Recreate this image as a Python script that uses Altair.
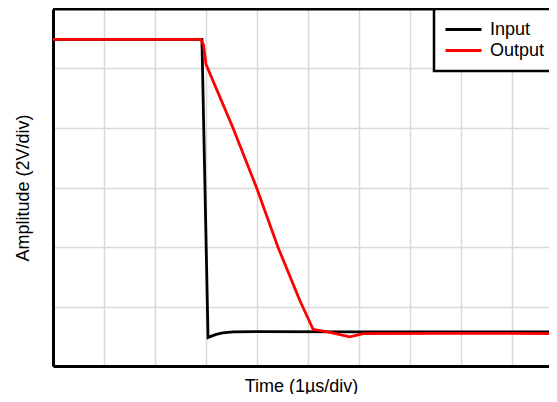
import altair as alt
import pandas as pd

# Time in divisions (1 µs/div), amplitude in divisions (2 V/div)
input_t = [0.0, 2.92, 3.04, 3.20, 3.33, 3.53, 4.06, 6.0, 9.95]
input_v = [5.49, 5.49, 0.48, 0.53, 0.555, 0.575, 0.578, 0.575, 0.572]

output_t = [0.0, 2.90, 2.95, 3.00, 3.53, 3.99, 4.41, 4.84, 5.10, 5.43, 5.82, 6.08, 7.78, 9.95]
output_v = [5.49, 5.49, 5.40, 5.07, 4.0, 3.0, 2.0, 1.1, 0.617, 0.567, 0.49, 0.545, 0.55, 0.545]

series = ["Input", "Output"]
series_colors = ["#000000", "#ff0000"]

x_grid = [1, 2, 3, 4, 5, 6, 7, 8, 9]
y_grid = [1, 2, 3, 4, 5]

rows = []
for t, v in zip(input_t, input_v):
    rows.append({"t": t, "v": v, "series": "Input", "o": 0})
for t, v in zip(output_t, output_v):
    rows.append({"t": t, "v": v, "series": "Output", "o": 1})
df = pd.DataFrame(rows)

FONT = "Liberation Sans"
W, H = 496, 357

lines = alt.Chart(df).mark_line(strokeWidth=2.8, clip=True).encode(
    x=alt.X("t:Q",
            scale=alt.Scale(domain=[0, W / 51], nice=False, zero=False),
            axis=alt.Axis(title="Time (1µs/div)", values=x_grid, labels=False, ticks=False,
                          domain=True, domainColor="black", domainWidth=3,
                          grid=True, gridColor="#d9d9d9", gridWidth=1.5,
                          titleFont=FONT, titleFontSize=18, titleFontWeight="normal",
                          titleColor="black", titlePadding=11)),
    y=alt.Y("v:Q",
            scale=alt.Scale(domain=[0, 6], nice=False, zero=False),
            axis=alt.Axis(title="Amplitude (2V/div)", values=y_grid, labels=False, ticks=False,
                          domain=True, domainColor="black", domainWidth=3,
                          grid=True, gridColor="#d9d9d9", gridWidth=1.5,
                          titleFont=FONT, titleFontSize=18, titleFontWeight="normal",
                          titleColor="black", titlePadding=21)),
    color=alt.Color("series:N",
                    scale=alt.Scale(domain=series, range=series_colors),
                    legend=alt.Legend(title=None, orient="none", legendX=381, legendY=0,
                                      symbolType="stroke", symbolSize=1296,
                                      symbolStrokeWidth=2.8, clipHeight=21, rowPadding=0,
                                      labelFont=FONT, labelFontSize=18, labelColor="black",
                                      labelOffset=7, labelLimit=200,
                                      strokeColor="black", fillColor="white",
                                      padding=10, cornerRadius=0)),
    order=alt.Order("o:Q"),
    detail="series:N",
)

top_border = alt.Chart(pd.DataFrame({"a": [0]})).mark_rule(
    color="black", strokeWidth=3
).encode(x=alt.value(0), x2=alt.value(W), y=alt.value(0))

chart = alt.layer(lines, top_border).properties(
    width=W, height=H,
    autosize=alt.AutoSizeParams(type="none"),
    padding={"left": 45, "top": 1, "right": 0, "bottom": 28},
).configure_view(stroke="transparent").configure_legend(strokeWidth=2.5)

chart.save("out.html", embed_options={"renderer": "svg", "actions": False})
